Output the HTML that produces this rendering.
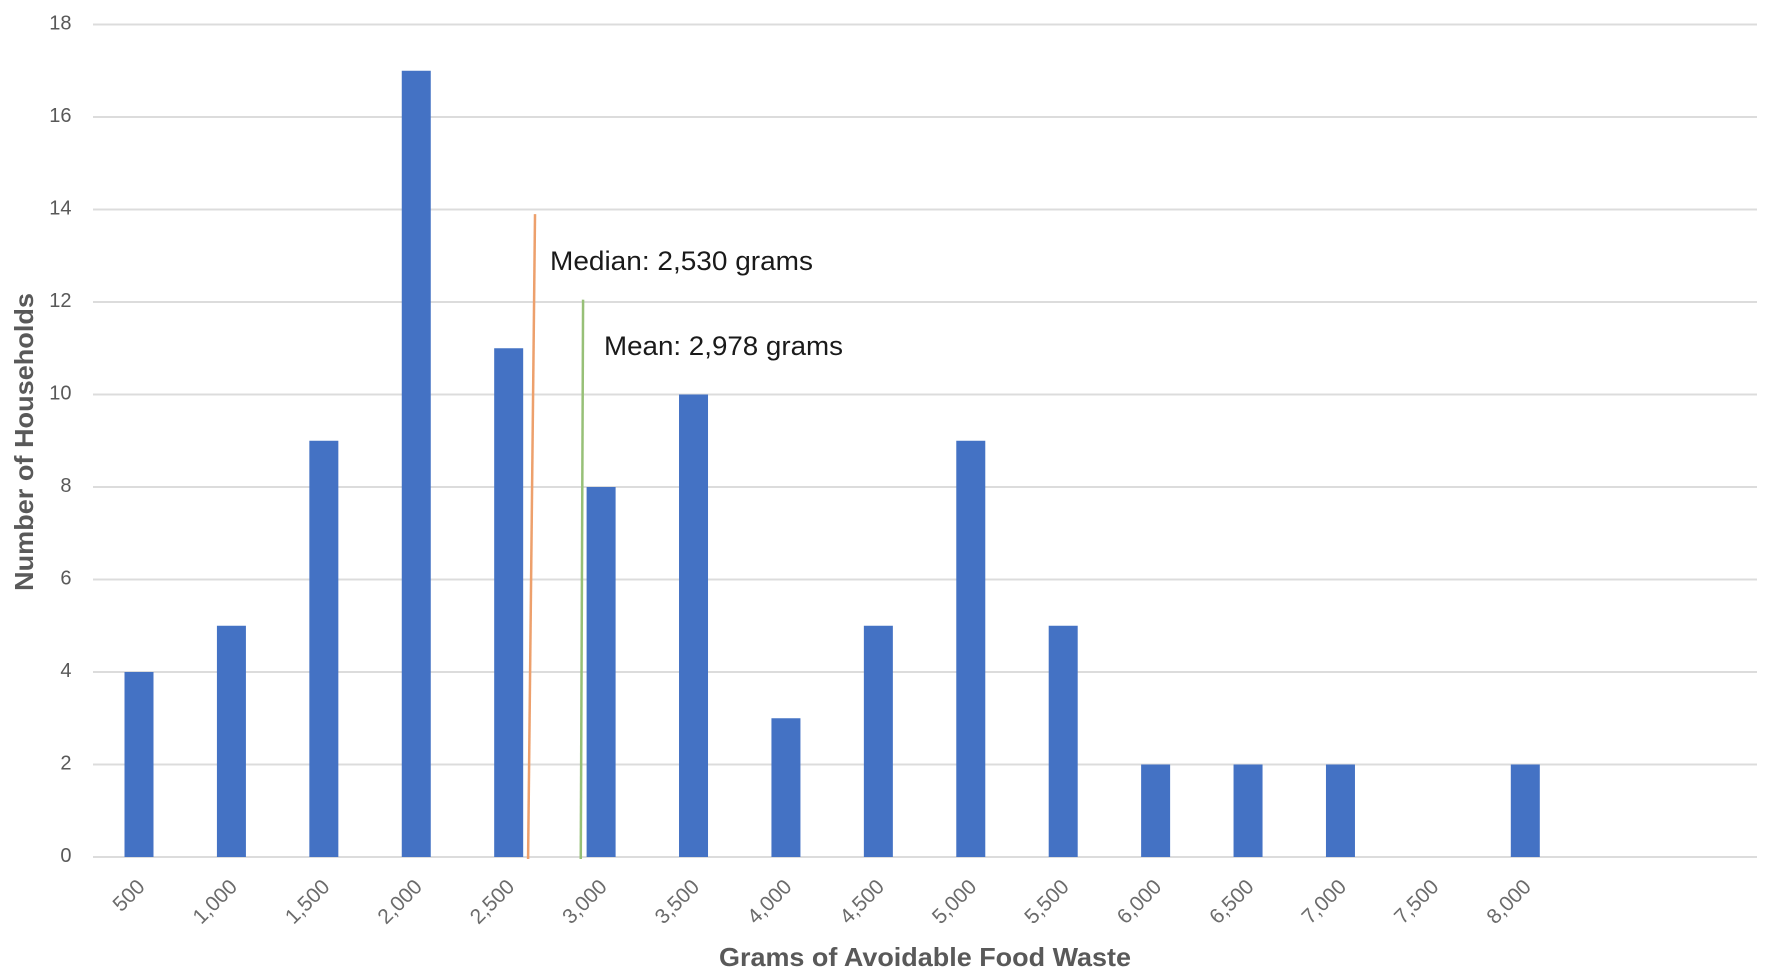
<!DOCTYPE html>
<html lang="en">
<head>
<meta charset="utf-8">
<title>Grams of Avoidable Food Waste</title>
<style>
html,body{margin:0;padding:0;background:#fff;width:1772px;height:976px;overflow:hidden}
svg{display:block}
text{font-family:"Liberation Sans",sans-serif}
</style>
</head>
<body>
<svg id="chart" xmlns="http://www.w3.org/2000/svg" width="1772" height="976" viewBox="0 0 1772 976">
  <rect width="1772" height="976" fill="#ffffff"/>
  <g id="grid"></g>
  <g id="yticks"></g>
  <g id="bars"></g>
  <g id="xticks"></g>
  <g id="refs"></g>
  <text x="550" y="270" font-size="27" fill="#1a1a1a" textLength="263" lengthAdjust="spacingAndGlyphs">Median: 2,530 grams</text>
  <text x="604" y="355" font-size="27" fill="#1a1a1a" textLength="239" lengthAdjust="spacingAndGlyphs">Mean: 2,978 grams</text>
  <text x="719" y="966" font-size="26" font-weight="700" fill="#595959" textLength="412" lengthAdjust="spacingAndGlyphs">Grams of Avoidable Food Waste</text>
  <text transform="translate(33,591) rotate(-90)" x="0" y="0" font-size="26" font-weight="700" fill="#595959" textLength="298" lengthAdjust="spacingAndGlyphs">Number of Households</text>
</svg>
<script>
const categories = ["500","1,000","1,500","2,000","2,500","3,000","3,500","4,000","4,500","5,000","5,500","6,000","6,500","7,000","7,500","8,000"];
const households = [4,5,9,17,11,8,10,3,5,9,5,2,2,2,0,2];
const yTicks = [0,2,4,6,8,10,12,14,16,18];
const medianLine = [[4.21,0],[4.285,13.9]];
const meanLine = [[4.78,0],[4.805,12.05]];

const NS = "http://www.w3.org/2000/svg";
const xScale = function (i) { return 139 + i * 92.42; };
const yScale = function (v) { return 857 - v * 46.25; };
const make = function (tag, parent) {
  const el = document.createElementNS(NS, tag);
  parent.appendChild(el);
  return el;
};

const grid = document.getElementById("grid");
const yGroup = document.getElementById("yticks");
yTicks.forEach(function (t) {
  const line = make("line", grid);
  
  
  line.setAttribute("x1", 93);
  line.setAttribute("x2", 1757);
  line.setAttribute("y1", yScale(t));
  line.setAttribute("y2", yScale(t));
  line.setAttribute("stroke", "#dcdcdc");
  line.setAttribute("stroke-width", 2);
  const label = make("text", yGroup);
  
  
  label.setAttribute("x", 71.5);
  label.setAttribute("y", yScale(t) + 5);
  label.setAttribute("text-anchor", "end");
  label.setAttribute("font-size", 20);
  label.setAttribute("fill", "#595959");
  label.textContent = t;
});

const barGroup = document.getElementById("bars");
const xGroup = document.getElementById("xticks");
categories.forEach(function (c, i) {
  if (households[i] > 0) {
    const bar = make("rect", barGroup);
    
    
    bar.setAttribute("x", xScale(i) - 14.5);
    bar.setAttribute("y", yScale(households[i]));
    bar.setAttribute("width", 29);
    bar.setAttribute("height", yScale(0) - yScale(households[i]));
    bar.setAttribute("fill", "#4472c4");
  }
  const label = make("text", xGroup);
  
  
  const lx = xScale(i) + 7;
  label.setAttribute("transform", "translate(" + lx + ",888) rotate(-45)");
  label.setAttribute("text-anchor", "end");
  label.setAttribute("font-size", 21);
  label.setAttribute("fill", "#6b6b6b");
  label.textContent = c;
});

const refs = document.getElementById("refs");
const drawRef = function (pts, color, name) {
  const line = make("line", refs);
  
  
  line.setAttribute("x1", xScale(pts[0][0]));
  line.setAttribute("y1", yScale(pts[0][1]) + 2);
  line.setAttribute("x2", xScale(pts[1][0]));
  line.setAttribute("y2", yScale(pts[1][1]));
  line.setAttribute("stroke", color);
  line.setAttribute("stroke-width", 2.5);
};
drawRef(medianLine, "#eda06c", "median-line");
drawRef(meanLine, "#97c077", "mean-line");
</script>
</body>
</html>
